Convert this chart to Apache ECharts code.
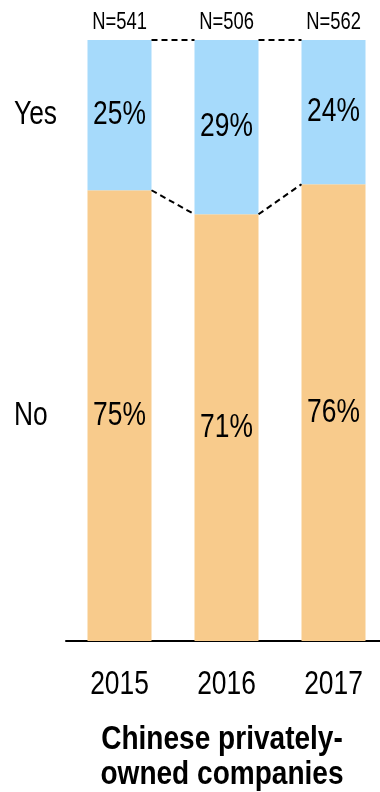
<!DOCTYPE html>
<html>
<head>
<meta charset="utf-8">
<script src="https://cdn.jsdelivr.net/npm/echarts@6/dist/echarts.min.js"></script>
<style>
  html, body { margin: 0; padding: 0; background: #fff; overflow: hidden; }
  /* canvas runs a little past the right edge so the last category band is full width */
  #chart { width: 387px; height: 792px; }
</style>
</head>
<body>
<div id="chart"></div>
<script>
// Survey years and respondent counts
const years = ['2015', '2016', '2017'];
const sampleSizes = ['N=541', 'N=506', 'N=562'];
// Share of answers per year (%)
const noShare = [75, 71, 76];
const yesShare = [25, 29, 24];
const rowNames = ['Yes', 'No'];
const titleLines = ['Chinese privately-', 'owned companies'];

const FONT = "'Liberation Sans', Arial, sans-serif";
const NARROW = 0.8;          // horizontal squeeze, gives a condensed face
const BAR_W = 64;
const BLUE = '#A6DAFB';
const ORANGE = '#F8CB8C';

// Connector data: per gap between bars, the stacked boundaries on each side
const connectors = years.slice(0, -1).map((_, i) => [
  i, noShare[i], noShare[i + 1], noShare[i] + yesShare[i], noShare[i + 1] + yesShare[i + 1]
]);

function narrowText(x, y, text, size, align, weight) {
  return {
    type: 'text', x: x, y: y, scaleX: NARROW,
    style: {
      x: 0, y: 0, text: text,
      textAlign: align || 'center', textVerticalAlign: 'middle',
      fill: '#000', font: (weight ? weight + ' ' : '') + size + 'px ' + FONT
    }
  };
}

const chart = echarts.init(document.getElementById('chart'), null, { renderer: 'canvas' });

chart.setOption({
  animation: false,
  grid: { left: 66, right: 0, top: 40, height: 601, containLabel: false },
  xAxis: {
    type: 'category',
    data: years,
    axisLine: { lineStyle: { color: '#000', width: 2 } },
    axisTick: { show: false },
    axisLabel: { show: false }
  },
  yAxis: { type: 'value', min: 0, max: 100, show: false },
  series: [
    {
      name: 'No', type: 'bar', stack: 'share', barWidth: BAR_W,
      data: noShare,
      itemStyle: { color: ORANGE }
    },
    {
      name: 'Yes', type: 'bar', stack: 'share', barWidth: BAR_W,
      data: yesShare,
      itemStyle: { color: BLUE }
    },
    {
      // percentage labels centred in each stacked segment
      type: 'custom',
      data: years.map((_, i) => [i, noShare[i], yesShare[i]]),
      encode: { x: 0, y: [1, 2] },
      silent: true, z: 6,
      renderItem: function (params, api) {
        const i = api.value(0), no = api.value(1), yes = api.value(2);
        const pNo = api.coord([i, no / 2]);
        const pYes = api.coord([i, no + yes / 2]);
        return {
          type: 'group',
          children: [
            narrowText(pNo[0], pNo[1], no + '%', 33),
            narrowText(pYes[0], pYes[1], yes + '%', 33)
          ]
        };
      }
    },
    {
      // dashed connectors between neighbouring bars
      type: 'custom',
      data: connectors,
      encode: { x: 0, y: [1, 2, 3, 4] },
      silent: true, z: 5,
      renderItem: function (params, api) {
        const i = api.value(0);
        const half = BAR_W / 2;
        const style = { stroke: '#000', lineWidth: 2, lineDash: [6, 4] };
        const a1 = api.coord([i, api.value(1)]);
        const b1 = api.coord([i + 1, api.value(2)]);
        const a2 = api.coord([i, api.value(3)]);
        const b2 = api.coord([i + 1, api.value(4)]);
        return {
          type: 'group',
          children: [
            { type: 'line', shape: { x1: a1[0] + half, y1: a1[1], x2: b1[0] - half, y2: b1[1] }, style: style },
            { type: 'line', shape: { x1: a2[0] + half, y1: a2[1], x2: b2[0] - half, y2: b2[1] }, style: style }
          ]
        };
      }
    },
    {
      // sample size above each bar, year below the axis
      type: 'custom',
      data: years.map((_, i) => [i, noShare[i] + yesShare[i]]),
      encode: { x: 0, y: 1 },
      silent: true,
      renderItem: function (params, api) {
        const i = params.dataIndex;
        const top = api.coord([api.value(0), api.value(1)]);
        const base = api.coord([api.value(0), 0]);
        return {
          type: 'group',
          children: [
            narrowText(top[0], top[1] - 17, sampleSizes[i], 23),
            narrowText(base[0], base[1] + 44, years[i], 33)
          ]
        };
      }
    },
    {
      // row names beside the first bar
      type: 'custom',
      data: [[0, noShare[0] + yesShare[0] / 2], [0, noShare[0] / 2]],
      encode: { x: 0, y: 1 },
      silent: true,
      renderItem: function (params, api) {
        const p = api.coord([api.value(0), api.value(1)]);
        return narrowText(14, p[1], rowNames[params.dataIndex], 33, 'left');
      }
    }
  ],
  graphic: titleLines.map((line, k) => ({
    type: 'text',
    x: 222, y: 739.5 + k * 35, scaleX: 0.85,
    style: {
      x: 0, y: 0, text: line, textAlign: 'center', textVerticalAlign: 'middle',
      fill: '#000', font: 'bold 33px ' + FONT
    }
  }))
});
</script>
</body>
</html>
